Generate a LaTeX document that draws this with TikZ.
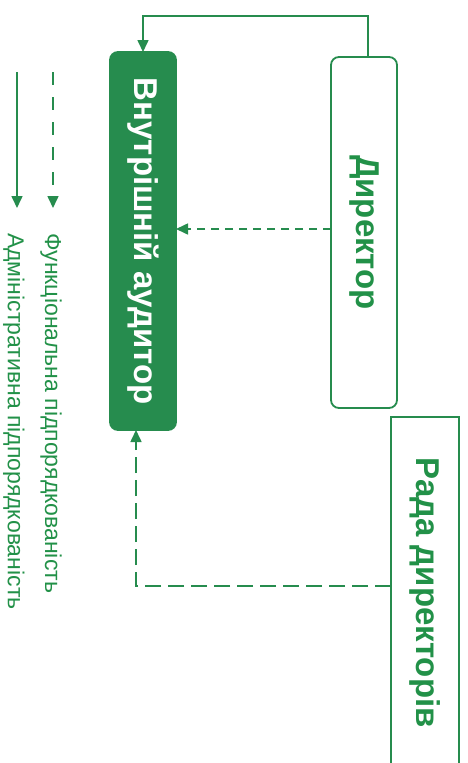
\documentclass[tikz,border=0pt]{standalone}
\usepackage{fontspec}
\usepackage{graphicx}
\setmainfont{Liberation Sans}
\usetikzlibrary{arrows.meta}
\definecolor{grn}{RGB}{38,140,78}
\definecolor{grntext}{RGB}{34,145,72}
\begin{document}
\begin{tikzpicture}[x=1pt,y=-1pt,
  box/.style={draw=grn, line width=1.8pt, inner sep=0pt, outer sep=0pt},
  adm/.style={draw=grn, line width=1.6pt, -{Triangle[length=12pt,width=11pt]}},
  funcA/.style={adm, dash pattern=on 8pt off 6pt},
  funcB/.style={adm, dash pattern=on 16pt off 7pt},
  boxtext/.style={font=\bfseries\fontsize{33}{36}\selectfont},
  legtext/.style={font=\fontsize{23}{26}\selectfont, text=grntext, inner sep=0pt, rotate=-90, anchor=base west}
]
\clip (0,0) rectangle (468,763);
\fill[white] (0,0) rectangle (468,763);

\node[box, fill=grn, rounded corners=8pt, minimum width=66pt, minimum height=378pt, text=white, boxtext]
  (aud) at (143,241) {\rotatebox[origin=c]{-90}{Внутрішній аудитор}};
\node[box, rounded corners=8pt, minimum width=66pt, minimum height=351pt, text=grntext, boxtext]
  (dir) at (364,232.5) {\rotatebox[origin=c]{-90}{Директор}};
\node[box, minimum width=68pt, minimum height=360pt, text=grntext, boxtext]
  (rada) at (425,597) {\rotatebox[origin=c]{-90}{Рада директорів\hspace{9pt}}};

% administrative link
\draw[adm] ([xshift=4pt]dir.north) -- ++(0,-41) -| (aud.north);
% functional links
\draw[funcA] ([yshift=3.5pt]dir.west) coordinate (d1) -- (aud.east |- d1);
\draw[funcB] ([yshift=11pt]rada.west) -| ([xshift=-7pt]aud.south);

% legend
\coordinate (ls1) at (17,72);
\coordinate (le1) at (17,208);
\coordinate (ls2) at (53,72);
\coordinate (le2) at (53,208);
\draw[adm] (ls1) -- (le1);
\draw[adm, dash pattern=on 13pt off 12pt] (ls2) -- (le2);
\node[legtext] (lf) at (45,233) {Функціональна підпорядкованість};
\node[legtext] (la) at (8,233) {Адміністративна підпорядкованість};
\end{tikzpicture}
\end{document}
